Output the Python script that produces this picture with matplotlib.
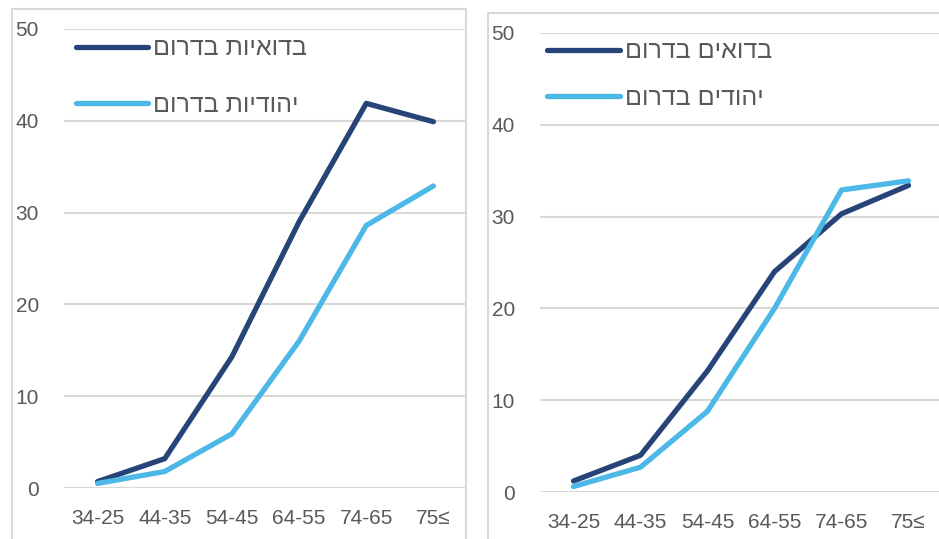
import matplotlib.pyplot as plt
from matplotlib.patches import Rectangle

plt.rcParams['font.family'] = ['Liberation Sans', 'DejaVu Sans']

ages = ['34-25', '44-35', '54-45', '64-55', '74-65', '75≤']

# left panel (women)
bedouin_women = [0.7, 3.2, 14.3, 29.0, 41.9, 39.9]
jewish_women = [0.5, 1.8, 5.9, 16.0, 28.6, 32.9]
# right panel (men)
bedouin_men = [1.2, 4.0, 13.2, 24.0, 30.3, 33.4]
jewish_men = [0.6, 2.7, 8.8, 20.0, 32.9, 33.9]

# hebrew labels, reversed for left-to-right rendering
lab_bw = 'בדואיות בדרום'[::-1]
lab_jw = 'יהודיות בדרום'[::-1]
lab_bm = 'בדואים בדרום'[::-1]
lab_jm = 'יהודים בדרום'[::-1]

dark = '#264478'
light = '#4BB8E8'
grey = '#595959'
grid_c = '#d9d9d9'

W, H = 939, 539
fig = plt.figure(figsize=(W / 100, H / 100), dpi=100)

# panel frames
fig.patches.append(Rectangle((12 / W, -0.02), (466 - 12) / W, (H - 9) / H + 0.02,
                             transform=fig.transFigure, fill=False,
                             edgecolor=grid_c, linewidth=1.5))
fig.patches.append(Rectangle((488 / W, -0.02), (W + 5 - 488) / W, (H - 13) / H + 0.02,
                             transform=fig.transFigure, fill=False,
                             edgecolor=grid_c, linewidth=1.5))

ax1 = fig.add_axes([64 / W, (H - 488) / H, (467 - 64) / W, (488 - 29) / H])
ax2 = fig.add_axes([540 / W, (H - 492) / H, (942 - 540) / W, (492 - 33) / H])

panels = [
    (ax1, bedouin_women, jewish_women, lab_bw, lab_jw, (-0.014, 1.022), 1.3),
    (ax2, bedouin_men, jewish_men, lab_bm, lab_jm, (-0.026, 1.024), 0.9),
]

for ax, d1, d2, l1, l2, anchor, spacing in panels:
    x = range(len(ages))
    ax.plot(x, d1, color=dark, lw=3.8, label=l1, solid_capstyle='round')
    ax.plot(x, d2, color=light, lw=3.8, label=l2, solid_capstyle='round')
    ax.set_xlim(-0.5, len(ages) - 0.5)
    ax.set_ylim(0, 50)
    ax.set_yticks([0, 10, 20, 30, 40, 50])
    ax.set_xticks(list(x))
    ax.set_xticklabels(ages)
    ax.yaxis.grid(True, color=grid_c, lw=1.5)
    ax.set_axisbelow(True)
    for s in ax.spines.values():
        s.set_visible(False)
    ax.tick_params(axis='y', length=0, pad=18, labelsize=15, labelcolor=grey)
    ax.tick_params(axis='x', length=0, pad=15, labelsize=15, labelcolor=grey)
    leg = ax.legend(loc='upper left', bbox_to_anchor=anchor, frameon=False,
                    fontsize=18, handlelength=2.9, handletextpad=0.2,
                    labelspacing=spacing, borderaxespad=0.3)
    for t in leg.get_texts():
        t.set_color(grey)

plt.savefig('out.png', dpi=100)
